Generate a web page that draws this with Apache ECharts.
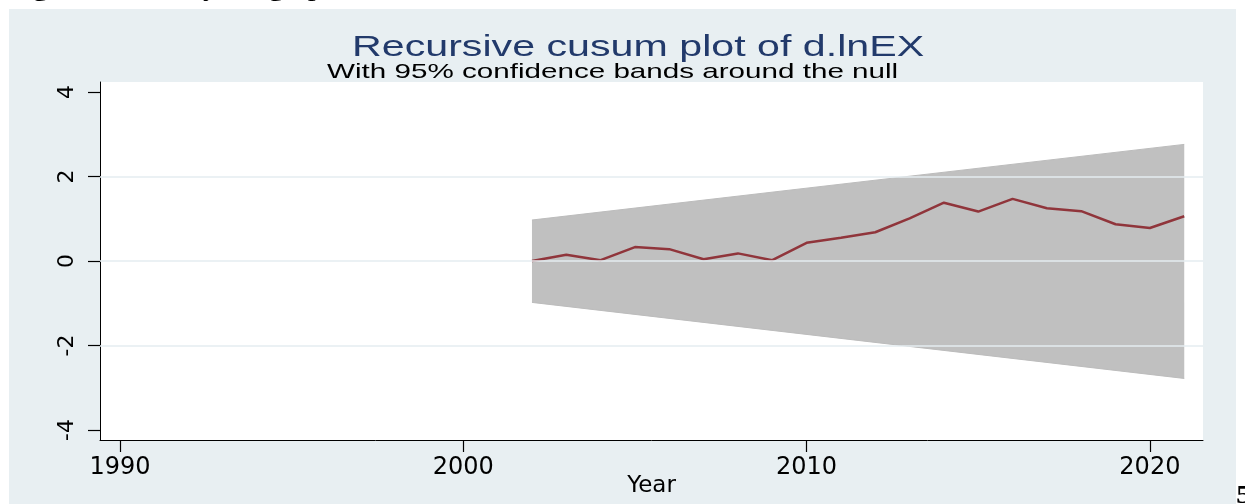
<!DOCTYPE html>
<html>
<head>
<meta charset="utf-8">
<script src="https://cdn.jsdelivr.net/npm/echarts@6/dist/echarts.min.js"></script>
<style>
  html, body { margin: 0; padding: 0; background: #fff; }
  #chart { width: 1245px; height: 504px; }
</style>
</head>
<body>
<div id="chart"></div>
<script>
// recursive cusum values
const years = [2002, 2003, 2004, 2005, 2006, 2007, 2008, 2009, 2010, 2011,
               2012, 2013, 2014, 2015, 2016, 2017, 2018, 2019, 2020, 2021];
const cusum = [0.0, 0.15, 0.02, 0.33, 0.28, 0.04, 0.18, 0.02, 0.43, 0.55,
               0.68, 1.01, 1.38, 1.17, 1.47, 1.25, 1.18, 0.87, 0.78, 1.06];

// 95% band (straight lines between first and last year)
const bandYears = [2002, 2021];
const bandUpper = [0.97, 2.76];
const bandLower = [-0.98, -2.78];

const xTicks = [1990, 2000, 2010, 2020];
const yTicks = [-4, -2, 0, 2, 4];
const gridValues = [-2, 0, 2];

const titleText = 'Recursive cusum plot of d.lnEX';
const subtitleText = 'With 95% confidence bands around the null';

const chart = echarts.init(document.getElementById('chart'));

const zip = (xs, ys) => xs.map((x, i) => [x, ys[i]]);

const option = {
  backgroundColor: '#fff',
  animation: false,
  grid: {
    left: 100, right: 42, top: 82, bottom: 64,
    outerBoundsMode: 'none',
    containLabel: false,
    show: true, backgroundColor: '#fff', borderWidth: 0
  },
  xAxis: {
    type: 'value',
    min: 1989.417, max: 2021.547,
    name: 'Year',
    nameLocation: 'middle',
    nameGap: 35,
    nameMoveOverlap: false,
    nameTextStyle: { fontFamily: 'DejaVu Sans', fontSize: 23, color: '#000' },
    axisLine: { show: true, onZero: false, lineStyle: { color: '#000', width: 1 } },
    axisTick: { show: true, length: 12, customValues: xTicks, lineStyle: { color: '#000', width: 1.2 } },
    axisLabel: {
      customValues: xTicks, fontFamily: 'DejaVu Sans', fontSize: 24, color: '#000', margin: 16,
      formatter: v => String(v)
    },
    splitLine: { show: false }
  },
  yAxis: {
    type: 'value',
    min: -4.237, max: 4.237,
    axisLine: { show: true, onZero: false, lineStyle: { color: '#000', width: 1 } },
    axisTick: { show: true, length: 12, customValues: yTicks, lineStyle: { color: '#000', width: 1.2 } },
    axisLabel: { customValues: yTicks, rotate: 90, fontFamily: 'DejaVu Sans', fontSize: 22, color: '#000', margin: 22 },
    splitLine: { show: false }
  },
  graphic: [
    {
      type: 'rect', z: -10, silent: true,
      shape: { x: 9, y: 9, width: 1227, height: 500 },
      style: { fill: '#e8eff2' }
    },
    {
      type: 'text', z: 10, x: 352, y: 33, scaleX: 1.42,
      style: {
        text: titleText, fontFamily: 'Liberation Sans', fontSize: 29,
        fill: '#223a6b', verticalAlign: 'top'
      }
    },
    {
      type: 'text', z: 10, x: 327, y: 62, scaleX: 1.41,
      style: {
        text: subtitleText, fontFamily: 'Liberation Sans', fontSize: 21,
        fill: '#000', verticalAlign: 'top'
      }
    },
    {
      type: 'text', z: 10, x: 10, y: 2, scaleX: 1.4,
      style: {
        text: 'Figure 5: Stability test graph', fontFamily: 'Liberation Serif',
        fontWeight: 'bold', fontSize: 19, fill: '#000', verticalAlign: 'bottom'
      }
    },
    {
      type: 'text', z: 10, x: 1236, y: 484, scaleX: 1.3,
      style: {
        text: '5', fontFamily: 'Liberation Serif', fontWeight: 'bold',
        fontSize: 25, fill: '#000', verticalAlign: 'top'
      }
    }
  ],
  series: [
    {
      name: 'grid',
      type: 'line',
      z: 1,
      data: [[bandYears[0], 0]],
      showSymbol: false,
      lineStyle: { opacity: 0 },
      silent: true,
      markLine: {
        silent: true,
        symbol: 'none',
        label: { show: false },
        lineStyle: { color: '#e4edf0', width: 1.5, type: 'solid' },
        data: gridValues.map(v => ({ yAxis: v }))
      }
    },
    {
      name: 'upper',
      type: 'line',
      z: 2,
      data: zip(bandYears, bandUpper),
      showSymbol: false,
      lineStyle: { color: '#bcbcbc', width: 1 },
      areaStyle: { color: '#c0c0c0', opacity: 1 },
      silent: true
    },
    {
      name: 'lower',
      type: 'line',
      z: 2,
      data: zip(bandYears, bandLower),
      showSymbol: false,
      lineStyle: { color: '#bcbcbc', width: 1 },
      areaStyle: { color: '#c0c0c0', opacity: 1 },
      silent: true
    },
    {
      name: 'cusum',
      type: 'line',
      z: 3,
      data: zip(years, cusum),
      showSymbol: false,
      lineStyle: { color: '#90353b', width: 2.5 }
    }
  ]
};

chart.setOption(option);
</script>
</body>
</html>
